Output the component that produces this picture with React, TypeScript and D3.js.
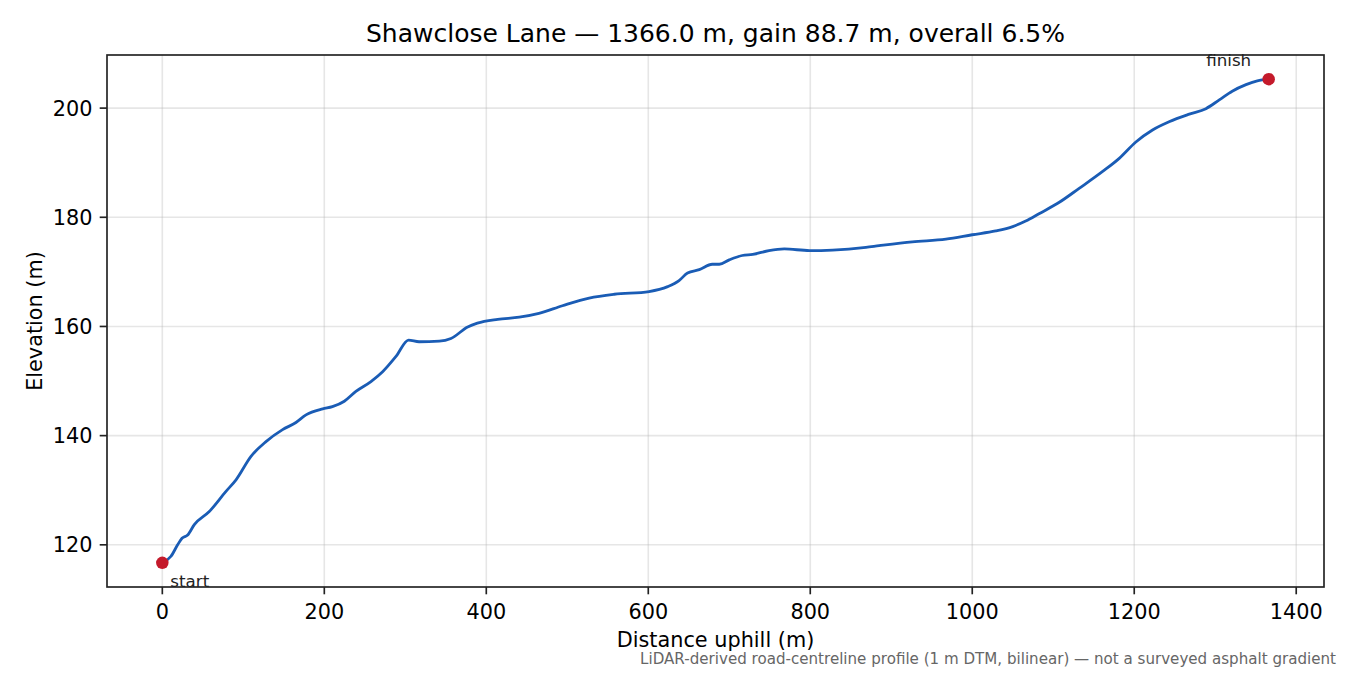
import React from "react";
import * as d3 from "d3";

const distance = [0, 10.7, 18.9, 24.3, 31.3, 39.5, 58, 78.6, 91, 109.5, 128, 148.5, 165, 177.4, 198, 210, 224.7, 239, 257.6, 272, 288.5, 304, 317, 342, 356.4, 377, 389, 414, 440.7, 465, 494, 527, 558, 601, 624, 638, 648.5, 663, 679, 687.7, 700, 716, 729, 749, 768, 799, 827.5, 868.7, 885, 926, 967.5, 1000, 1029, 1050, 1066, 1083, 1107, 1132, 1161, 1181.5, 1202, 1222.6, 1243, 1268, 1288.5, 1305, 1321, 1338, 1352, 1366];
const elevation = [116.7, 117.9, 120.0, 121.2, 121.8, 123.7, 126.1, 129.8, 131.9, 136.2, 138.9, 141.1, 142.4, 143.8, 144.9, 145.3, 146.3, 148.1, 149.9, 151.7, 154.5, 157.5, 157.2, 157.3, 157.8, 159.9, 160.6, 161.3, 161.7, 162.4, 163.8, 165.2, 165.9, 166.4, 167.3, 168.4, 169.8, 170.4, 171.4, 171.4, 172.2, 173.0, 173.2, 173.9, 174.2, 173.9, 174.0, 174.5, 174.8, 175.5, 176.0, 176.8, 177.5, 178.3, 179.3, 180.7, 182.7, 185.3, 188.4, 190.8, 193.8, 196.0, 197.5, 198.9, 199.9, 201.5, 203.1, 204.3, 205.0, 205.3];
const xTicks = [0, 200, 400, 600, 800, 1000, 1200, 1400];
const yTicks = [120, 140, 160, 180, 200];
const titleText = "Shawclose Lane — 1366.0 m, gain 88.7 m, overall 6.5%";
const xLabel = "Distance uphill (m)";
const yLabel = "Elevation (m)";
const footnote = "LiDAR-derived road-centreline profile (1 m DTM, bilinear) — not a surveyed asphalt gradient";

const W = 1350, H = 675;
const L = 107, R = 1324, T = 55, B = 587;
const FONT = "DejaVu Sans, sans-serif";
const TICK = 7.3;

export default function App() {
  const xmin = d3.min(distance)!, xmax = d3.max(distance)!;
  const ymin = d3.min(elevation)!, ymax = d3.max(elevation)!;
  const xm = (xmax - xmin) * 0.05, ym = (ymax - ymin) * 0.05;
  const x = d3.scaleLinear().domain([xmin - xm, xmax + xm]).range([L, R]);
  const y = d3.scaleLinear().domain([ymin - ym, ymax + ym]).range([B, T]);
  const pts: [number, number][] = distance.map((d, i) => [d, elevation[i]]);
  const line = d3.line<[number, number]>().x(d => x(d[0])).y(d => y(d[1])).curve(d3.curveMonotoneX);
  const first = pts[0], last = pts[pts.length - 1];
  return (
    <svg width={W} height={H} style={{ position: "absolute", left: 0, top: 0, background: "#fff" }} fontFamily={FONT}>
      <rect x={0} y={0} width={W} height={H} fill="#fff" />
      {xTicks.map(t => (
        <line key={"gx" + t} x1={x(t)} x2={x(t)} y1={T} y2={B} stroke="#b0b0b0" strokeOpacity={0.32} strokeWidth={1.6} />
      ))}
      {yTicks.map(t => (
        <line key={"gy" + t} x1={L} x2={R} y1={y(t)} y2={y(t)} stroke="#b0b0b0" strokeOpacity={0.32} strokeWidth={1.6} />
      ))}
      <path d={line(pts)!} fill="none" stroke="#1a5cb5" strokeWidth={2.8} strokeLinejoin="round" strokeLinecap="round" />
      <circle cx={x(first[0])} cy={y(first[1])} r={6.25} fill="#c41a2b" />
      <circle cx={x(last[0])} cy={y(last[1])} r={6.25} fill="#c41a2b" />
      <text x={x(first[0]) + 8} y={y(first[1]) + 24} fontSize={16.7} fill="#222">start</text>
      <text x={x(last[0]) - 40} y={y(last[1]) - 13.5} fontSize={16.7} fill="#222" textAnchor="middle">finish</text>
      <rect x={L} y={T} width={R - L} height={B - T} fill="none" stroke="#222" strokeWidth={1.67} />
      {xTicks.map(t => (
        <g key={"tx" + t}>
          <line x1={x(t)} x2={x(t)} y1={B} y2={B + TICK} stroke="#222" strokeWidth={1.67} />
          <text x={x(t)} y={618.5} fontSize={20.8} textAnchor="middle" fill="#000">{t}</text>
        </g>
      ))}
      {yTicks.map(t => (
        <g key={"ty" + t}>
          <line x1={L - TICK} x2={L} y1={y(t)} y2={y(t)} stroke="#222" strokeWidth={1.67} />
          <text x={L - 14.6} y={y(t) + 7.6} fontSize={20.8} textAnchor="end" fill="#000">{t}</text>
        </g>
      ))}
      <text x={(L + R) / 2} y={41.7} fontSize={25} textAnchor="middle" fill="#000">{titleText}</text>
      <text x={(L + R) / 2} y={647} fontSize={20.8} textAnchor="middle" fill="#000">{xLabel}</text>
      <text transform={`translate(41.7,${(T + B) / 2}) rotate(-90)`} fontSize={20.8} textAnchor="middle" fill="#000">{yLabel}</text>
      <text x={1336} y={664} fontSize={15.1} textAnchor="end" fill="#666">{footnote}</text>
    </svg>
  );
}
